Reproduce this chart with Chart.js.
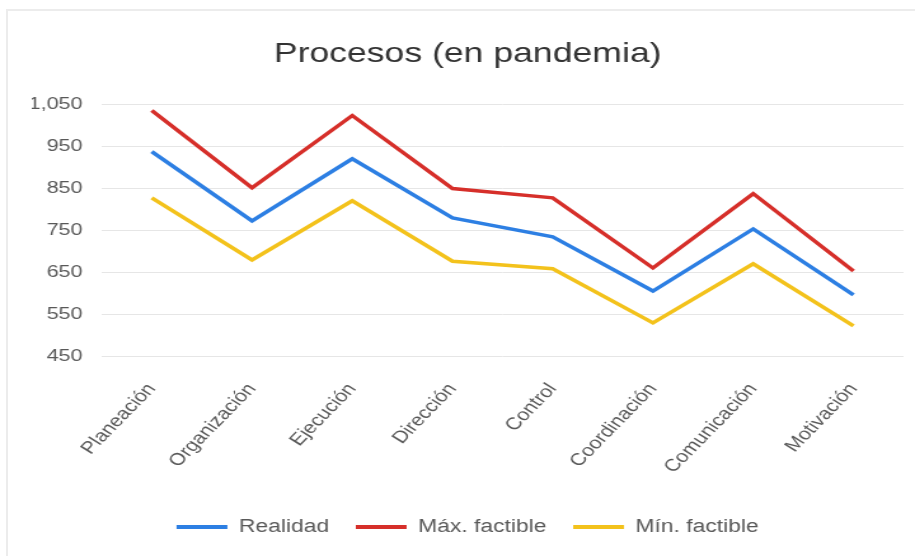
<!DOCTYPE html>
<html>
<head>
<meta charset="utf-8">
<title>Procesos (en pandemia)</title>
<script src="https://cdn.jsdelivr.net/npm/chart.js@4.4.1/dist/chart.umd.min.js"></script>
<style>
  html, body { margin: 0; padding: 0; background: #fff; }
  #frame {
    position: absolute; left: 6px; top: 9px; width: 909px; height: 547px;
    border-top: 2px solid #ececec; border-left: 2px solid #ececec;
  }
  /* the chart is laid out narrow, then widened to the full page width */
  #stage {
    position: absolute; left: 0; top: 0; width: 720px; height: 556px;
    transform: scaleX(1.2708); transform-origin: 0 0;
  }
</style>
</head>
<body>
<div id="frame"></div>
<div id="stage"><canvas id="chart" width="720" height="556"></canvas></div>
<script>
const categories = ['Planeación', 'Organización', 'Ejecución', 'Dirección', 'Control', 'Coordinación', 'Comunicación', 'Motivación'];
const realidad     = [938, 773, 921, 780, 735, 606, 754, 597];
const maxFactible  = [1036, 852, 1024, 850, 828, 661, 838, 654];
const minFactible  = [828, 680, 821, 677, 659, 530, 671, 523];
const yTicks = { min: 450, max: 1050, step: 100 };

const FONT = "'Liberation Sans', Arial, sans-serif";
const textGray = '#595959';

function series(label, data, color) {
  return {
    label, data,
    borderColor: color, backgroundColor: color,
    borderWidth: 3.5, pointRadius: 0, tension: 0
  };
}

new Chart(document.getElementById('chart'), {
  type: 'line',
  data: {
    labels: categories,
    datasets: [
      series('Realidad', realidad, '#2d7fe3'),
      series('Máx. factible', maxFactible, '#d62f2a'),
      series('Mín. factible', minFactible, '#f3c21c')
    ]
  },
  options: {
    responsive: false,
    animation: false,
    layout: { padding: { left: 25, right: 9, top: 0, bottom: 10 } },
    plugins: {
      title: {
        display: true,
        text: 'Procesos (en pandemia)',
        color: '#333',
        font: { family: FONT, size: 28, weight: 'normal' },
        padding: { top: 37, bottom: 34 }
      },
      legend: {
        position: 'bottom',
        labels: {
          color: textGray,
          font: { family: FONT, size: 18 },
          boxWidth: 40,
          boxHeight: 4,
          padding: 21,
          generateLabels(chart) {
            return Chart.defaults.plugins.legend.labels.generateLabels(chart)
              .map(l => Object.assign(l, { lineWidth: 0 }));
          }
        }
      },
      tooltip: { enabled: false }
    },
    scales: {
      x: {
        offset: true,
        grid: { display: false },
        border: { display: false },
        afterFit(scale) { scale.height += 5; },
        ticks: {
          color: textGray,
          font: { family: FONT, size: 17 },
          minRotation: 52, maxRotation: 52,
          padding: 15
        }
      },
      y: {
        min: yTicks.min,
        max: yTicks.max,
        border: { display: false },
        grid: { color: '#e6e6e6', lineWidth: 1, drawTicks: false },
        afterFit(scale) { scale.width = 55; },
        ticks: {
          stepSize: yTicks.step,
          color: textGray,
          font: { family: FONT, size: 17 },
          padding: 15,
          callback: v => v.toLocaleString('en-US')
        }
      }
    }
  }
});
</script>
</body>
</html>
